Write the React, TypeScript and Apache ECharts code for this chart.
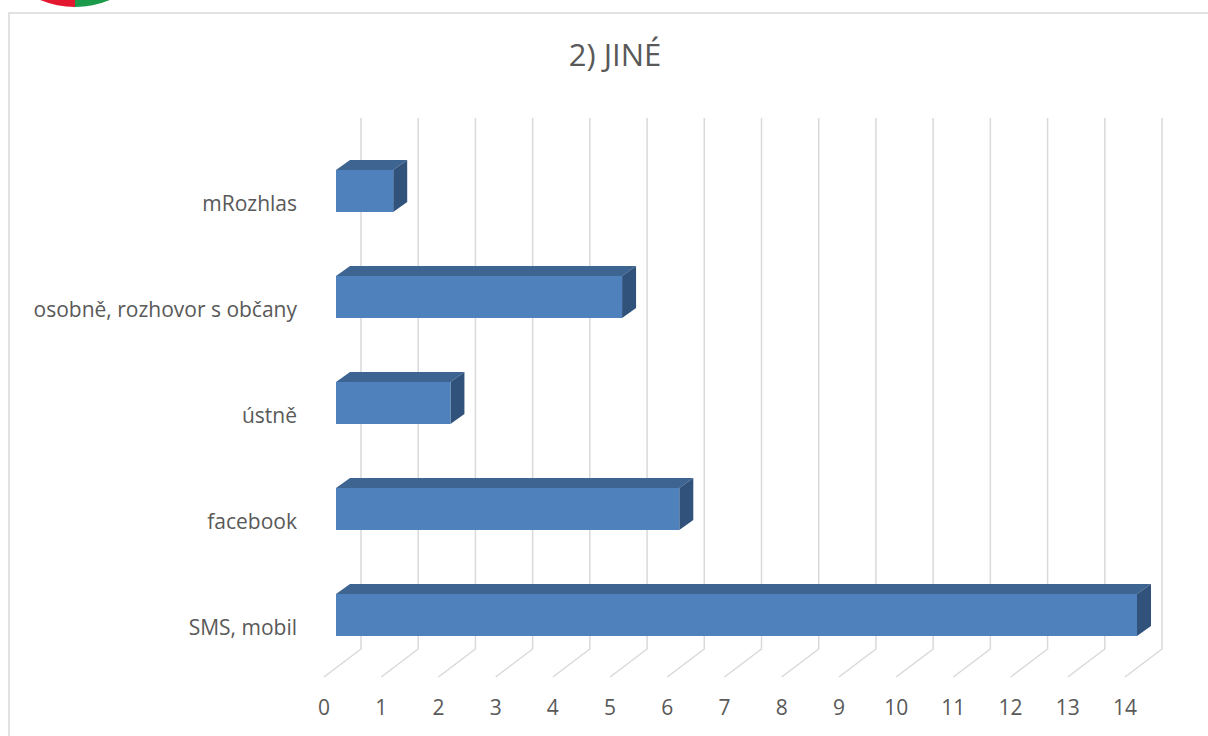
import React, { useEffect, useRef } from "react";
import * as echarts from "echarts";

const categories = ["SMS, mobil", "facebook", "ústně", "osobně, rozhovor s občany", "mRozhlas"];
const values = [14, 6, 2, 5, 1];
const tickValues = [0, 1, 2, 3, 4, 5, 6, 7, 8, 9, 10, 11, 12, 13, 14];
const title = "2) JINÉ";

const FONT = "'Open Sans', sans-serif";
const TEXT = "#595959";
const GRID = "#d9d9d9";

export default function App() {
  const ref = useRef<HTMLDivElement>(null);
  useEffect(() => {
    if (!ref.current) return;
    const chart = echarts.init(ref.current, null, { renderer: "svg" });
    const option: any = {
      animation: false,
      backgroundColor: "#ffffff",
      title: {
        text: title,
        left: 610,
        textAlign: "center",
        top: 33,
        textStyle: { fontFamily: FONT, fontSize: 31, fontWeight: "normal", color: TEXT },
      },
      graphic: [
        {
          type: "rect",
          shape: { x: 9, y: 13, width: 1400, height: 900 },
          style: { fill: "none", stroke: GRID, lineWidth: 1.5 },
          z: -10,
        },
        {
          type: "sector",
          shape: { cx: 75, cy: -84, r: 91, startAngle: Math.PI / 2, endAngle: (Math.PI * 3) / 2 },
          style: { fill: "#e3172f" },
        },
        {
          type: "sector",
          shape: { cx: 75, cy: -84, r: 91, startAngle: -Math.PI / 2, endAngle: Math.PI / 2 },
          style: { fill: "#1b9a4b" },
        },
      ],
      grid: { left: 324, top: 150, width: (1125 - 324), height: 530, containLabel: false },
      xAxis: {
        type: "value",
        min: 0,
        max: 14,
        interval: 1,
        axisLine: { show: false },
        axisTick: { show: false },
        splitLine: { show: false },
        axisLabel: { color: TEXT, fontFamily: FONT, fontSize: 21, margin: 16 },
      },
      yAxis: {
        type: "category",
        data: categories,
        axisLine: { show: false },
        axisTick: { show: false },
        splitLine: { show: false },
        axisLabel: { color: TEXT, fontFamily: FONT, fontSize: 21, margin: 27 },
      },
      series: [
        {
          type: "custom",
          z: 1,
          data: tickValues.map((v) => [v, 0]),
          renderItem: (params: any, api: any) => {
            const v = api.value(0);
            const cs = params.coordSys;
            const x = api.coord([v, 0])[0];
            const bottom = cs.y + cs.height;
            return {
              type: "polyline",
              shape: {
                points: [
                  [x + 37, cs.y - 32],
                  [x + 37, bottom - 31],
                  [x, bottom - 3],
                ],
              },
              style: { stroke: GRID, lineWidth: 1.5, fill: "none" },
              silent: true,
            };
          },
        },
        {
          type: "custom",
          z: 2,
          data: values.map((v, i) => [v, i]),
          renderItem: (params: any, api: any) => {
            const v = api.value(0);
            const i = api.value(1);
            const end = api.coord([v, i]);
            const start = api.coord([0, i]);
            const x0 = start[0] + 12;
            const x1 = end[0] + 12;
            const yc = end[1];
            const yt = yc - 33;
            const yb = yc + 9;
            const dx = 14;
            const dy = -10;
            return {
              type: "group",
              children: [
                {
                  type: "polygon",
                  shape: { points: [[x0, yt], [x0 + dx, yt + dy], [x1 + dx, yt + dy], [x1, yt]] },
                  style: { fill: "#3e6592" },
                },
                {
                  type: "polygon",
                  shape: { points: [[x1, yt], [x1 + dx, yt + dy], [x1 + dx, yb + dy], [x1, yb]] },
                  style: { fill: "#31527b" },
                },
                {
                  type: "rect",
                  shape: { x: x0, y: yt, width: x1 - x0, height: yb - yt },
                  style: { fill: "#4f81bd" },
                },
              ],
            };
          },
        },
      ],
    };
    chart.setOption(option);
    return () => chart.dispose();
  }, []);
  return (
    <div
      ref={ref}
      style={{ position: "fixed", left: 0, top: 0, width: 1208, height: 736 }}
    />
  );
}
